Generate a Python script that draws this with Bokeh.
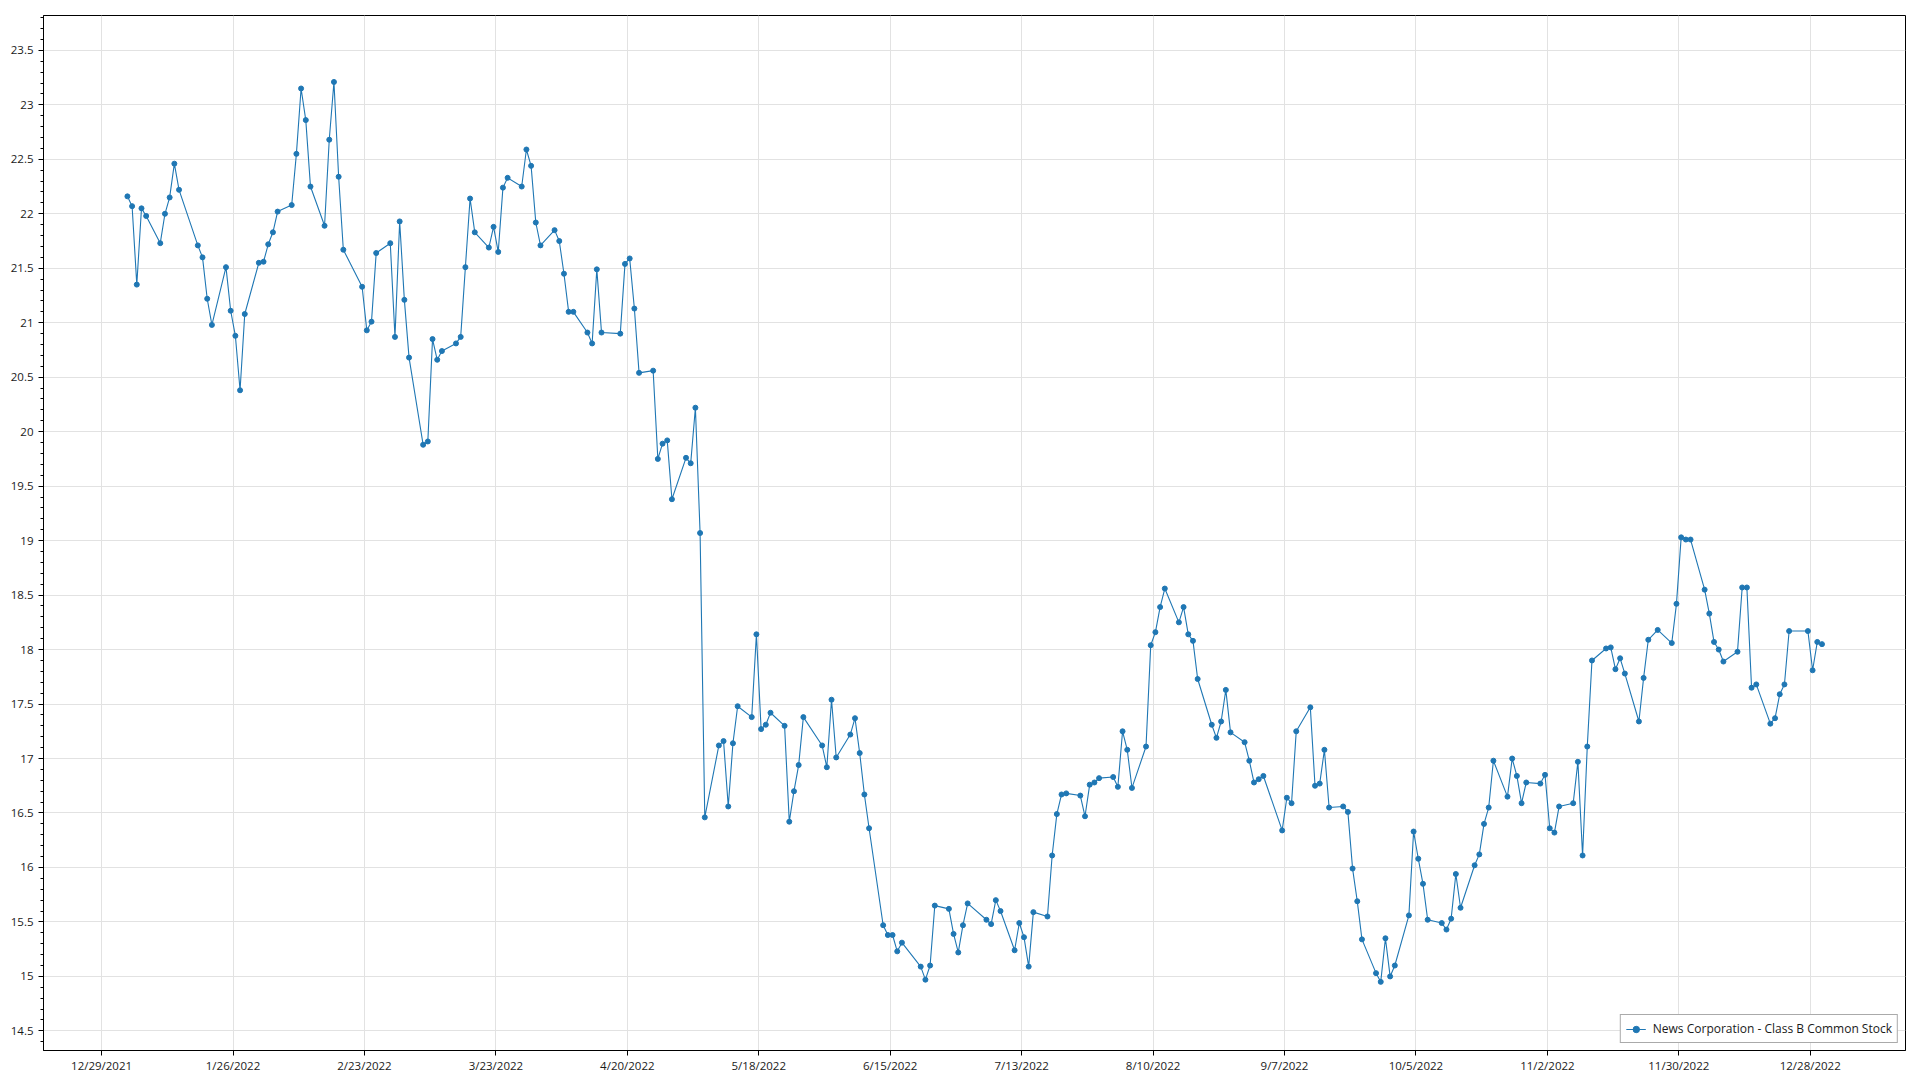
import pandas as pd
from datetime import datetime
from bokeh.plotting import figure
from bokeh.models import (Range1d, FixedTicker, CustomJSTickFormatter, Legend,
                          LegendItem, ColumnDataSource)
from bokeh.embed import file_html
from bokeh.resources import INLINE

series_name = "News Corporation - Class B Common Stock"

trade_dates = [
    "2022-01-03", "2022-01-04", "2022-01-05", "2022-01-06", "2022-01-07", "2022-01-10", "2022-01-11",
    "2022-01-12", "2022-01-13", "2022-01-14", "2022-01-18", "2022-01-19", "2022-01-20", "2022-01-21",
    "2022-01-24", "2022-01-25", "2022-01-26", "2022-01-27", "2022-01-28", "2022-01-31",
    "2022-02-01", "2022-02-02", "2022-02-03", "2022-02-04", "2022-02-07", "2022-02-08", "2022-02-09",
    "2022-02-10", "2022-02-11", "2022-02-14", "2022-02-15", "2022-02-16", "2022-02-17", "2022-02-18",
    "2022-02-22", "2022-02-23", "2022-02-24", "2022-02-25", "2022-02-28",
    "2022-03-01", "2022-03-02", "2022-03-03", "2022-03-04", "2022-03-07", "2022-03-08", "2022-03-09",
    "2022-03-10", "2022-03-11", "2022-03-14", "2022-03-15", "2022-03-16", "2022-03-17", "2022-03-18",
    "2022-03-21", "2022-03-22", "2022-03-23", "2022-03-24", "2022-03-25", "2022-03-28", "2022-03-29",
    "2022-03-30", "2022-03-31",
    "2022-04-01", "2022-04-04", "2022-04-05", "2022-04-06", "2022-04-07", "2022-04-08", "2022-04-11",
    "2022-04-12", "2022-04-13", "2022-04-14", "2022-04-18", "2022-04-19", "2022-04-20", "2022-04-21",
    "2022-04-22", "2022-04-25", "2022-04-26", "2022-04-27", "2022-04-28", "2022-04-29",
    "2022-05-02", "2022-05-03", "2022-05-04", "2022-05-05", "2022-05-06", "2022-05-09", "2022-05-10",
    "2022-05-11", "2022-05-12", "2022-05-13", "2022-05-16", "2022-05-17", "2022-05-18", "2022-05-19",
    "2022-05-20", "2022-05-23", "2022-05-24", "2022-05-25", "2022-05-26", "2022-05-27", "2022-05-31",
    "2022-06-01", "2022-06-02", "2022-06-03", "2022-06-06", "2022-06-07", "2022-06-08", "2022-06-09",
    "2022-06-10", "2022-06-13", "2022-06-14", "2022-06-15", "2022-06-16", "2022-06-17", "2022-06-21",
    "2022-06-22", "2022-06-23", "2022-06-24", "2022-06-27", "2022-06-28", "2022-06-29", "2022-06-30",
    "2022-07-01", "2022-07-05", "2022-07-06", "2022-07-07", "2022-07-08", "2022-07-11", "2022-07-12",
    "2022-07-13", "2022-07-14", "2022-07-15", "2022-07-18", "2022-07-19", "2022-07-20", "2022-07-21",
    "2022-07-22", "2022-07-25", "2022-07-26", "2022-07-27", "2022-07-28", "2022-07-29",
    "2022-08-01", "2022-08-02", "2022-08-03", "2022-08-04", "2022-08-05", "2022-08-08", "2022-08-09",
    "2022-08-10", "2022-08-11", "2022-08-12", "2022-08-15", "2022-08-16", "2022-08-17", "2022-08-18",
    "2022-08-19", "2022-08-22", "2022-08-23", "2022-08-24", "2022-08-25", "2022-08-26", "2022-08-29",
    "2022-08-30", "2022-08-31",
    "2022-09-01", "2022-09-02", "2022-09-06", "2022-09-07", "2022-09-08", "2022-09-09", "2022-09-12",
    "2022-09-13", "2022-09-14", "2022-09-15", "2022-09-16", "2022-09-19", "2022-09-20", "2022-09-21",
    "2022-09-22", "2022-09-23", "2022-09-26", "2022-09-27", "2022-09-28", "2022-09-29", "2022-09-30",
    "2022-10-03", "2022-10-04", "2022-10-05", "2022-10-06", "2022-10-07", "2022-10-10", "2022-10-11",
    "2022-10-12", "2022-10-13", "2022-10-14", "2022-10-17", "2022-10-18", "2022-10-19", "2022-10-20",
    "2022-10-21", "2022-10-24", "2022-10-25", "2022-10-26", "2022-10-27", "2022-10-28", "2022-10-31",
    "2022-11-01", "2022-11-02", "2022-11-03", "2022-11-04", "2022-11-07", "2022-11-08", "2022-11-09",
    "2022-11-10", "2022-11-11", "2022-11-14", "2022-11-15", "2022-11-16", "2022-11-17", "2022-11-18",
    "2022-11-21", "2022-11-22", "2022-11-23", "2022-11-25", "2022-11-28", "2022-11-29", "2022-11-30",
    "2022-12-01", "2022-12-02", "2022-12-05", "2022-12-06", "2022-12-07", "2022-12-08", "2022-12-09",
    "2022-12-12", "2022-12-13", "2022-12-14", "2022-12-15", "2022-12-16", "2022-12-19", "2022-12-20",
    "2022-12-21", "2022-12-22", "2022-12-23", "2022-12-27", "2022-12-28", "2022-12-29", "2022-12-30",
]

close_prices = [
    22.16, 22.07, 21.35, 22.05, 21.98, 21.73, 22.00,
    22.15, 22.46, 22.22, 21.71, 21.60, 21.22, 20.98,
    21.51, 21.11, 20.88, 20.38, 21.08, 21.55,
    21.56, 21.72, 21.83, 22.02, 22.08, 22.55, 23.15,
    22.86, 22.25, 21.89, 22.68, 23.21, 22.34, 21.67,
    21.33, 20.93, 21.01, 21.64, 21.73,
    20.87, 21.93, 21.21, 20.68, 19.88, 19.91, 20.85,
    20.66, 20.74, 20.81, 20.87, 21.51, 22.14, 21.83,
    21.69, 21.88, 21.65, 22.24, 22.33, 22.25, 22.59,
    22.44, 21.92,
    21.71, 21.85, 21.75, 21.45, 21.10, 21.10, 20.91,
    20.81, 21.49, 20.91, 20.90, 21.54, 21.59, 21.13,
    20.54, 20.56, 19.75, 19.89, 19.92, 19.38,
    19.76, 19.71, 20.22, 19.07, 16.46, 17.12, 17.16,
    16.56, 17.14, 17.48, 17.38, 18.14, 17.27, 17.31,
    17.42, 17.30, 16.42, 16.70, 16.94, 17.38, 17.12,
    16.92, 17.54, 17.01, 17.22, 17.37, 17.05, 16.67,
    16.36, 15.47, 15.38, 15.38, 15.23, 15.31, 15.09,
    14.97, 15.10, 15.65, 15.62, 15.39, 15.22, 15.47,
    15.67, 15.52, 15.48, 15.70, 15.60, 15.24, 15.49,
    15.36, 15.09, 15.59, 15.55, 16.11, 16.49, 16.67,
    16.68, 16.66, 16.47, 16.76, 16.78, 16.82,
    16.83, 16.74, 17.25, 17.08, 16.73, 17.11, 18.04,
    18.16, 18.39, 18.56, 18.25, 18.39, 18.14, 18.08,
    17.73, 17.31, 17.19, 17.34, 17.63, 17.24, 17.15,
    16.98, 16.78,
    16.81, 16.84, 16.34, 16.64, 16.59, 17.25, 17.47,
    16.75, 16.77, 17.08, 16.55, 16.56, 16.51, 15.99,
    15.69, 15.34, 15.03, 14.95, 15.35, 15.00, 15.10,
    15.56, 16.33, 16.08, 15.85, 15.52, 15.49, 15.43,
    15.53, 15.94, 15.63, 16.02, 16.12, 16.40, 16.55,
    16.98, 16.65, 17.00, 16.84, 16.59, 16.78, 16.77,
    16.85, 16.36, 16.32, 16.56, 16.59, 16.97, 16.11,
    17.11, 17.90, 18.01, 18.02, 17.82, 17.92, 17.78,
    17.34, 17.74, 18.09, 18.18, 18.06, 18.42, 19.03,
    19.01, 19.01, 18.55, 18.33, 18.07, 18.00, 17.89,
    17.98, 18.57, 18.57, 17.65, 17.68, 17.32, 17.37,
    17.59, 17.68, 18.17, 18.17, 17.81, 18.07, 18.05,
]

x_tick_dates = ["2021-12-29", "2022-01-26", "2022-02-23", "2022-03-23", "2022-04-20",
                "2022-05-18", "2022-06-15", "2022-07-13", "2022-08-10", "2022-09-07",
                "2022-10-05", "2022-11-02", "2022-11-30", "2022-12-28"]
y_ticks = [14.5, 15, 15.5, 16, 16.5, 17, 17.5, 18, 18.5, 19, 19.5, 20, 20.5,
           21, 21.5, 22, 22.5, 23, 23.5]

FONT = "Open Sans"
LINE_COLOR = "#1f77b4"

x_vals = pd.to_datetime(trade_dates) + pd.Timedelta(hours=12)
src = ColumnDataSource(dict(x=x_vals, y=close_prices))

p = figure(width=1920, height=1080, x_axis_type="datetime",
           output_backend="svg", toolbar_location=None,
           x_range=Range1d(datetime(2021, 12, 16, 15), datetime(2023, 1, 17, 7)),
           y_range=Range1d(14.32, 23.82),
           min_border_left=43, min_border_right=15, min_border_top=15, min_border_bottom=30)

p.background_fill_color = "white"
p.border_fill_color = "white"
p.outline_line_color = "black"
p.outline_line_width = 1
p.outline_line_alpha = 1

ln = p.line("x", "y", source=src, line_color=LINE_COLOR, line_width=1.1)
pts = p.scatter("x", "y", source=src, size=5, fill_color=LINE_COLOR, line_color=LINE_COLOR)

tick_ms = [pd.Timestamp(d).value // 10**6 for d in x_tick_dates]
xa = p.xaxis[0]
xa.ticker = FixedTicker(ticks=tick_ms, minor_ticks=[])
xa.formatter = CustomJSTickFormatter(code="""
const d = new Date(tick);
return (d.getUTCMonth() + 1) + "/" + d.getUTCDate() + "/" + d.getUTCFullYear();
""")
ya = p.yaxis[0]
ya.ticker = FixedTicker(ticks=y_ticks,
                        minor_ticks=[round(14.3 + 0.1 * i, 1) for i in range(96)])
ya.formatter = CustomJSTickFormatter(code="return String(Number(tick.toFixed(1)));")

for ax in (xa, ya):
    ax.axis_line_color = "black"
    ax.axis_line_width = 1
    ax.major_tick_line_color = "black"
    ax.minor_tick_line_color = "black"
    ax.major_tick_out = 5
    ax.major_tick_in = 0
    ax.minor_tick_out = 3
    ax.minor_tick_in = 0
    ax.major_label_text_font = FONT
    ax.major_label_text_font_size = "11.5px"
    ax.major_label_text_color = "#1a1a1a"
xa.major_label_standoff = 2
ya.major_label_standoff = 5

p.xgrid.grid_line_color = "#e2e2e2"
p.ygrid.grid_line_color = "#e2e2e2"
p.xgrid.grid_line_width = 1
p.ygrid.grid_line_width = 1

legend = Legend(items=[LegendItem(label=series_name, renderers=[ln, pts])],
                location="bottom_right")
legend.margin = 7
legend.padding = 5
legend.border_line_color = "#555555"
legend.border_line_width = 1
legend.background_fill_color = "white"
legend.background_fill_alpha = 1
legend.glyph_width = 20
legend.glyph_height = 16
legend.label_standoff = 7
legend.label_text_font = FONT
legend.label_text_font_size = "12px"
legend.label_text_color = "#1a1a1a"
legend.label_height = 16
p.add_layout(legend)

open("out.html", "w").write(file_html(p, INLINE))
